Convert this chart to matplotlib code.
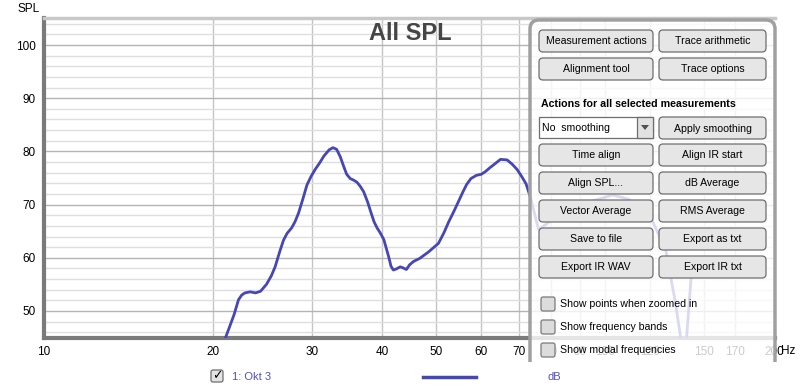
import matplotlib
matplotlib.use("Agg")
import matplotlib.pyplot as plt
from matplotlib.patches import FancyBboxPatch, Rectangle, Polygon
from matplotlib.ticker import NullLocator

plt.rcParams['font.family'] = ['Liberation Sans', 'DejaVu Sans']

freq = [20.8, 21.4, 21.8, 22.2, 22.5, 22.8, 23.3, 23.8, 24.3, 24.9, 25.4, 25.8, 26.3,
        26.7, 27.1, 27.6, 28.0, 28.4, 28.9, 29.4, 29.9, 30.4, 31.0, 31.5, 32.2, 32.7,
        33.2, 33.7, 34.2, 34.6, 35.1, 35.6, 36.1, 36.6, 37.1, 37.7, 38.2, 38.7, 39.2,
        39.7, 40.3, 40.7, 41.1, 41.5, 41.9, 42.4, 43.1, 43.6, 44.2, 44.8, 45.5, 46.7,
        48.4, 50.4, 51.5, 52.6, 53.8, 54.9, 55.8, 56.6, 57.6, 58.9, 60.1, 61.1, 62.2,
        63.6, 65.0, 66.8, 68.2, 69.6, 71.0, 72.2, 73.6, 76.0, 80.0, 90.0, 103.0, 110.0,
        121.0, 128.0, 133.0, 137.0, 139.0, 142.0, 145.0]
spl = [43.5, 47.0, 49.3, 52.1, 53.0, 53.4, 53.6, 53.4, 53.7, 55.0, 56.6, 58.3, 61.2,
       63.3, 64.6, 65.6, 66.8, 68.4, 71.0, 73.7, 75.3, 76.6, 77.9, 79.1, 80.3, 80.7,
       80.4, 79.0, 77.1, 75.7, 74.9, 74.6, 74.2, 73.4, 72.4, 70.5, 68.6, 66.8, 65.6,
       64.7, 63.4, 61.8, 60.2, 58.4, 57.7, 57.9, 58.3, 58.1, 57.8, 58.7, 59.3, 59.9,
       61.1, 62.7, 64.6, 66.8, 68.9, 70.9, 72.5, 73.8, 74.9, 75.5, 75.7, 76.2, 76.9,
       77.7, 78.5, 78.4, 77.6, 76.6, 75.2, 73.9, 71.2, 65.3, 67.0, 70.0, 71.8, 71.0,
       67.1, 61.5, 52.0, 43.0, 43.0, 56.0, 60.0]

x_ticks = [10, 20, 30, 40, 50, 60, 70, 80, 90, 100, 120, 150, 170, 200]
y_ticks = [50, 60, 70, 80, 90, 100]

left_buttons = ["Measurement actions", "Alignment tool", None, "Time align", "Align SPL...",
                "Vector Average", "Save to file", "Export IR WAV"]
right_buttons = ["Trace arithmetic", "Trace options", "Apply smoothing", "Align IR start",
                 "dB Average", "RMS Average", "Export as txt", "Export IR txt"]
check_labels = ["Show points when zoomed in", "Show frequency bands", "Show modal frequencies"]

W, H = 800, 391
fig = plt.figure(figsize=(W / 100, H / 100), dpi=100)
fig.patch.set_facecolor('white')

# main graph
ax = fig.add_axes([44 / W, 1 - 338 / H, (774.5 - 44) / W, (338 - 18) / H])
ax.set_xscale('log')
ax.set_xlim(10, 200)
ax.set_ylim(44.92, 105.08)
ax.plot(freq, spl, color='#4646b4', lw=2, solid_joinstyle='round',
        solid_capstyle='round', zorder=3)

ax.set_xticks(x_ticks)
ax.set_xticklabels([str(t) for t in x_ticks])
ax.xaxis.set_minor_locator(NullLocator())
ax.set_yticks(y_ticks)
ax.set_yticks(range(46, 106, 2), minor=True)
ax.tick_params(which='both', length=0, labelsize=8.5, colors='black')
ax.tick_params(axis='x', pad=6)
ax.tick_params(axis='y', pad=6)
ax.grid(which='major', axis='y', color='#b4b4b4', lw=1)
ax.grid(which='minor', axis='y', color='#dedede', lw=1)
ax.grid(which='major', axis='x', color='#c4c4c4', lw=1)
ax.set_axisbelow(True)
for side in ['left', 'bottom']:
    ax.spines[side].set_color('#7a7a7a')
    ax.spines[side].set_linewidth(3)
ax.spines['top'].set_color('#c8c8c8')
ax.spines['top'].set_linewidth(2.5)
ax.spines['right'].set_visible(False)

fig.text(17 / W, 1 - 9 / H, "SPL", fontsize=8.5, va='center', ha='left')
fig.text(781 / W, 1 - 351 / H, "Hz", fontsize=8.5, va='center', ha='left')
fig.text(410 / W, 1 - 33 / H, "All SPL", fontsize=17, fontweight='bold',
         color='#454545', ha='center', va='center')

# overlay in pixel coordinates for the control panel and legend
ov = fig.add_axes([0, 0, 1, 1], zorder=5)
ov.set_xlim(0, W)
ov.set_ylim(H, 0)
ov.axis('off')
ov.patch.set_visible(False)

panel = FancyBboxPatch((530, 20), 245, 360, boxstyle="round,pad=0,rounding_size=9",
                       fc='white', alpha=0.8, ec='none')
ov.add_patch(panel)
border = FancyBboxPatch((530, 20), 245, 360, boxstyle="round,pad=0,rounding_size=9",
                        fc='none', ec='#a0a0a0', lw=2.5)
ov.add_patch(border)
clip = Rectangle((0, 0), W, 362, transform=ov.transData)
panel.set_clip_path(clip)
border.set_clip_path(clip)

row_tops = [30, 58, 117, 144, 172, 200, 228, 256]


def button(x0, x1, top, label):
    ov.add_patch(FancyBboxPatch((x0, top), x1 - x0, 22, boxstyle="round,pad=0,rounding_size=4",
                                fc='#e6e6e6', ec='#6e6e6e', lw=0.9))
    ov.text((x0 + x1) / 2, top + 11.5, label, fontsize=7.6, ha='center', va='center')


for top, lab in zip(row_tops, left_buttons):
    if lab is not None:
        button(539, 653, top, lab)
for top, lab in zip(row_tops, right_buttons):
    button(659, 766, top, lab)

# smoothing dropdown
ov.add_patch(Rectangle((539, 117), 114, 21, fc='white', ec='#6e6e6e', lw=0.9))
ov.add_patch(Rectangle((637, 117), 16, 21, fc='#e2e2e2', ec='#6e6e6e', lw=0.9))
ov.add_patch(Polygon([[641, 125], [649, 125], [645, 130]], closed=True, fc='#505050', ec='none'))
ov.text(542, 128, "No  smoothing", fontsize=7.6, ha='left', va='center')

ov.text(541, 104, "Actions for all selected measurements", fontsize=7.7,
        fontweight='bold', ha='left', va='center')

for cy, lab in zip([304, 327, 350], check_labels):
    ov.add_patch(FancyBboxPatch((541, cy - 7), 14, 14, boxstyle="round,pad=0,rounding_size=2",
                                fc='#dcdcdc', ec='#7a7a7a', lw=0.9))
    ov.text(560, cy, lab, fontsize=7.6, ha='left', va='center')

# legend row
ov.add_patch(FancyBboxPatch((211, 370), 12, 12, boxstyle="round,pad=0,rounding_size=2",
                            fc='#e4e4e4', ec='#6e6e6e', lw=0.9))
ov.text(217, 376, "\u2713", fontsize=9, fontweight='bold', ha='center', va='center',
        family=['DejaVu Sans'])
ov.text(232, 377, "1: Okt 3", fontsize=8, color='#5050c0', ha='left', va='center')
ov.plot([423, 476], [377, 377], color='#4646b4', lw=2.5)
ov.text(548, 377, "dB", fontsize=8, color='#5050c0', ha='left', va='center')

fig.savefig("out.png", dpi=100)
